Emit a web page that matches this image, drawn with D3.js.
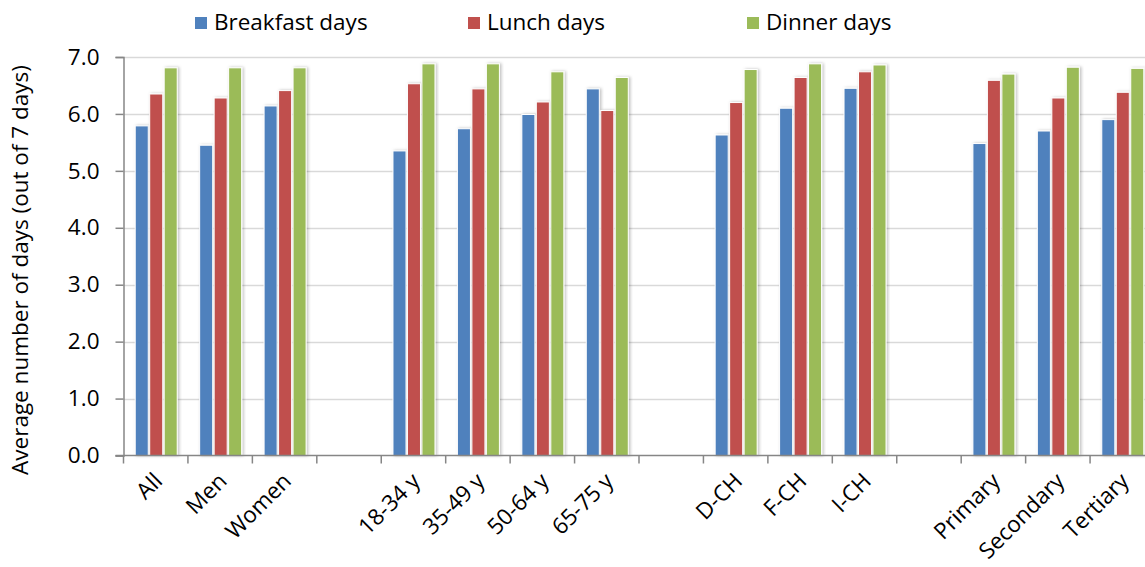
<!DOCTYPE html>
<html><head><meta charset="utf-8">
<script src="https://cdn.jsdelivr.net/npm/d3@7"></script>
<style>body{margin:0;background:#fff}svg{display:block}text{font-family:"Open Sans",sans-serif;fill:#000}</style>
</head><body><svg id="c" width="1145" height="567"></svg>
<script>
const slots = ["All","Men","Women","_g1","18-34 y","35-49 y","50-64 y","65-75 y","_g2","D-CH","F-CH","I-CH","_g3","Primary","Secondary","Tertiary"];
const categories = ["All","Men","Women","18-34 y","35-49 y","50-64 y","65-75 y","D-CH","F-CH","I-CH","Primary","Secondary","Tertiary"];
const seriesNames = ["Breakfast days","Lunch days","Dinner days"];
const breakfast = [5.79,5.45,6.14,5.35,5.74,5.99,6.44,5.63,6.10,6.45,5.48,5.70,5.90];
const lunch     = [6.35,6.28,6.41,6.53,6.44,6.21,6.06,6.20,6.64,6.74,6.59,6.28,6.38];
const dinner    = [6.81,6.81,6.81,6.88,6.88,6.74,6.64,6.78,6.88,6.86,6.70,6.82,6.80];
const yTicks = [0,1,2,3,4,5,6,7];
const colors = ["#4f81bd","#c0504d","#9bbb59"];

const svg = d3.select("#c");
const x0 = 123.5, x1 = 1154.5, yTop = 57, yBot = 455.5;
const x = d3.scaleBand().domain(slots).range([x0,x1]).paddingInner(0).paddingOuter(0);
const y = d3.scaleLinear().domain([0,7]).range([yBot,yTop]);
const xs = d3.scaleBand().domain(seriesNames).range([0,42]).paddingInner(0.1);

const defs = svg.append("defs");
const f = defs.append("filter").attr("id","sh").attr("x","-30%").attr("y","-10%").attr("width","160%").attr("height","120%");
f.append("feDropShadow").attr("dx",1.5).attr("dy",0).attr("stdDeviation",1.5).attr("flood-color","#000").attr("flood-opacity",0.25);

// gridlines
svg.append("g").selectAll("line").data(yTicks.filter(d=>d>0)).join("line")
  .attr("x1",x0).attr("x2",1145).attr("y1",d=>Math.round(y(d))+0.5).attr("y2",d=>Math.round(y(d))+0.5)
  .attr("stroke","#d9d9d9").attr("stroke-width",1.5);

// y axis
const ya = svg.append("g").attr("transform",`translate(${x0},0)`)
  .call(d3.axisLeft(y).tickValues(yTicks).tickFormat(d3.format(".1f")).tickSize(8).tickPadding(16));
ya.select(".domain").attr("stroke","#868686").attr("stroke-width",1.5);
ya.selectAll(".tick line").attr("stroke","#868686").attr("stroke-width",1.5);
ya.selectAll(".tick text").attr("font-size",22.5).attr("font-family","'Open Sans',sans-serif").attr("fill","#000");

// bars
const rows = categories.map((c,i)=>({c, v:[breakfast[i],lunch[i],dinner[i]]}));
const g = svg.append("g");
rows.forEach(r=>{
  const cx = x(r.c) + x.bandwidth()/2 - 21 + 0.5;
  g.selectAll(null).data(r.v).join("rect")
    .attr("x",(d,i)=>cx + xs(seriesNames[i]))
    .attr("y",d=>y(d)).attr("width",xs.bandwidth()).attr("height",d=>yBot - y(d))
    .attr("fill",(d,i)=>colors[i]).attr("stroke","#fff").attr("stroke-width",1)
    .attr("filter","url(#sh)");
});

// x axis
const xa = svg.append("g").attr("transform",`translate(0,${yBot})`);
xa.append("line").attr("x1",x0-8).attr("x2",1145).attr("y1",0).attr("y2",0).attr("stroke","#868686").attr("stroke-width",1.5);
xa.selectAll("line.t").data(slots).join("line").attr("class","t")
  .attr("x1",d=>x(d)).attr("x2",d=>x(d)).attr("y1",0).attr("y2",8).attr("stroke","#868686").attr("stroke-width",1.5);
xa.selectAll("text").data(categories).join("text")
  .attr("transform",d=>`translate(${x(d)+x.bandwidth()/2+8},${27}) rotate(-45)`)
  .attr("text-anchor","end").attr("font-size",22.5).text(d=>d);

// y title
svg.append("text").attr("transform",`translate(28,${270}) rotate(-90)`).attr("text-anchor","middle")
  .attr("font-size",22.5).text("Average number of days (out of 7 days)");

// legend
const legX = [195,468,747];
const lg = svg.append("g");
seriesNames.forEach((s,i)=>{
  lg.append("rect").attr("x",legX[i]).attr("y",17).attr("width",12).attr("height",12).attr("fill",colors[i]);
  lg.append("text").attr("x",legX[i]+19).attr("y",30).attr("font-size",22.5).text(s);
});
</script></body></html>
